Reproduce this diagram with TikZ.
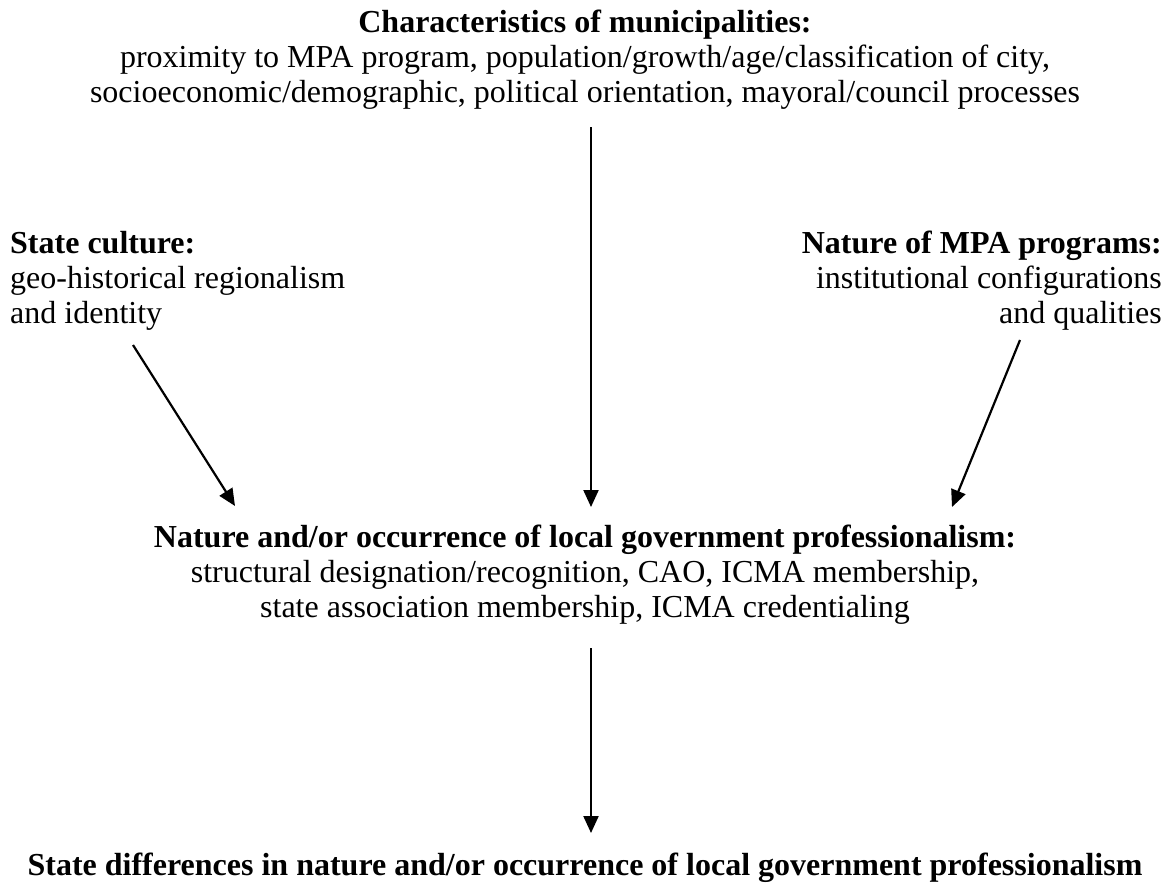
\documentclass[tikz,border=0pt]{standalone}
\usepackage{fontspec}
\setmainfont{Liberation Serif}
\usetikzlibrary{arrows.meta}
\begin{document}
\begin{tikzpicture}[x=1pt,y=-1pt,
  txt/.style={inner sep=0pt,font=\fontsize{32}{35.3}\selectfont},
  arr/.style={line width=2.2pt,-{Triangle[length=17pt,width=15pt]}}]
\useasboundingbox (0,0) rectangle (1168,886);
\node[txt,align=center,anchor=north] (muni) at (585,7.3) {\strut\textbf{Characteristics of municipalities:}\\proximity to MPA program, population/growth/age/classification of city,\\socioeconomic/demographic, political orientation, mayoral/council processes};
\node[txt,align=left,anchor=north west] (state) at (10,228.3) {\strut\textbf{State culture:}\\geo-historical regionalism\\and identity};
\node[txt,align=right,anchor=north east] (mpa) at (1162,228.3) {\strut\textbf{Nature of MPA programs:}\\institutional configurations\\and qualities};
\node[txt,align=center,anchor=north] (prof) at (585,522.3) {\strut\textbf{Nature and/or occurrence of local government professionalism:}\\structural designation/recognition, CAO, ICMA membership,\\state association membership, ICMA credentialing};
\node[txt,align=center,anchor=north] (diff) at (585,850.3) {\strut\textbf{State differences in nature and/or occurrence of local government professionalism}};
\coordinate (a1s) at (591,127); \coordinate (a1e) at (591,507);
\coordinate (a2s) at (133,345); \coordinate (a2e) at (235,506);
\coordinate (a3s) at (1020,340); \coordinate (a3e) at (952,507);
\coordinate (a4s) at (591,648); \coordinate (a4e) at (591,833);
\draw[arr] (a1s) -- (a1e);
\draw[arr] (a2s) -- (a2e);
\draw[arr] (a3s) -- (a3e);
\draw[arr] (a4s) -- (a4e);
\end{tikzpicture}
\end{document}
